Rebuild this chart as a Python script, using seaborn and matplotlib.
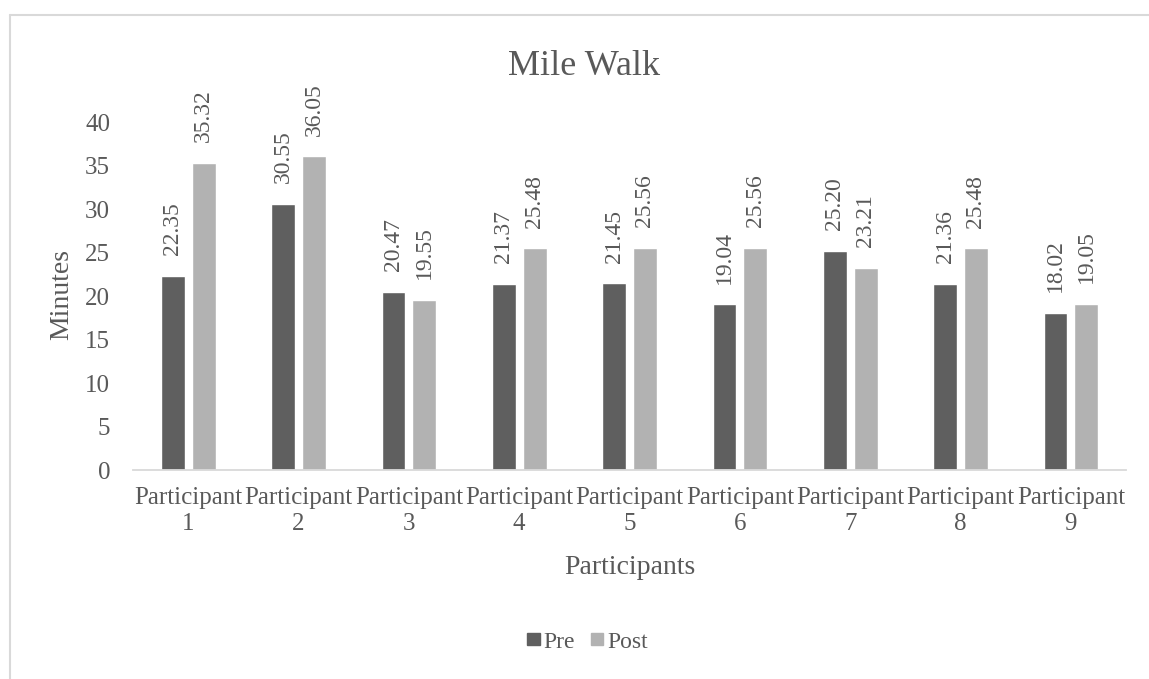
import pandas as pd
import numpy as np
import matplotlib
matplotlib.use("Agg")
import matplotlib.pyplot as plt
import seaborn as sns
from matplotlib.lines import Line2D
from matplotlib.patches import Patch

participants = ["Participant\n1", "Participant\n2", "Participant\n3", "Participant\n4", "Participant\n5",
                "Participant\n6", "Participant\n7", "Participant\n8", "Participant\n9"]
pre = [22.35, 30.55, 20.47, 21.37, 21.45, 19.04, 25.20, 21.36, 18.02]
post = [35.32, 36.05, 19.55, 25.48, 25.56, 25.56, 23.21, 25.48, 19.05]
series = ["Pre", "Post"]
yticks = [0, 5, 10, 15, 20, 25, 30, 35, 40]

data = pd.DataFrame({
    "Participant": participants * 2,
    "Minutes": pre + post,
    "Series": ["Pre"] * len(pre) + ["Post"] * len(post),
})

sns.set_style("white")
plt.rcParams["font.family"] = ["Liberation Serif", "DejaVu Serif"]
txt = "#595959"
colors = {"Pre": "#5f5f5f", "Post": "#b2b2b2"}

fig = plt.figure(figsize=(11.49, 6.79), dpi=100)
ax = fig.add_axes([0.1158, 0.3078, 0.8642, 0.5125])
sns.barplot(data=data, x="Participant", y="Minutes", hue="Series", hue_order=series,
            palette=colors, width=0.56, gap=0.23, saturation=1, ax=ax, legend=False)

for c in ax.containers:
    ax.bar_label(c, fmt="%.2f", rotation=90, padding=15, fontsize=17, color=txt, clip_on=False)

ax.set_ylim(0, 40)
ax.set_xlim(-0.5, 8.5)
ax.set_yticks(yticks)
ax.tick_params(axis="both", length=0, labelsize=18, colors=txt)
ax.tick_params(axis="y", pad=16.5)
ax.tick_params(axis="x", pad=12)
for t in ax.get_xticklabels():
    t.set_linespacing(1.25)
for s in ["top", "right", "left"]:
    ax.spines[s].set_visible(False)
ax.spines["bottom"].set_color("#d9d9d9")
ax.spines["bottom"].set_linewidth(1.3)

ax.set_xlabel("")
ax.set_ylabel("")
fig.text(629.5 / 1149, 1 - 574 / 679, "Participants", ha="center", va="baseline", fontsize=20, color=txt)
fig.text(62 / 1149, 1 - 295 / 679, "Minutes", ha="center", va="center", rotation=90, fontsize=20, color=txt)
fig.text(584.5 / 1149, 1 - 75 / 679, "Mile Walk", ha="center", va="baseline", fontsize=26, color=txt)

handles = [Patch(color=colors[s]) for s in series]
fig.legend(handles, series, loc="center", bbox_to_anchor=(587.5 / 1149, 1 - 642 / 679), ncol=2, frameon=False,
           fontsize=17, labelcolor=txt, handlelength=0.52, handleheight=0.4, handletextpad=0.17,
           columnspacing=0.65)

# outer chart border (top and left only visible)
bx = 9.5 / 1149
by = 1 - 14.5 / 679
fig.add_artist(Line2D([bx, 1], [by, by], color="#d9d9d9", lw=1.5, transform=fig.transFigure))
fig.add_artist(Line2D([bx, bx], [0, by], color="#d9d9d9", lw=1.5, transform=fig.transFigure))

fig.savefig("out.png", dpi=100, facecolor="white")
